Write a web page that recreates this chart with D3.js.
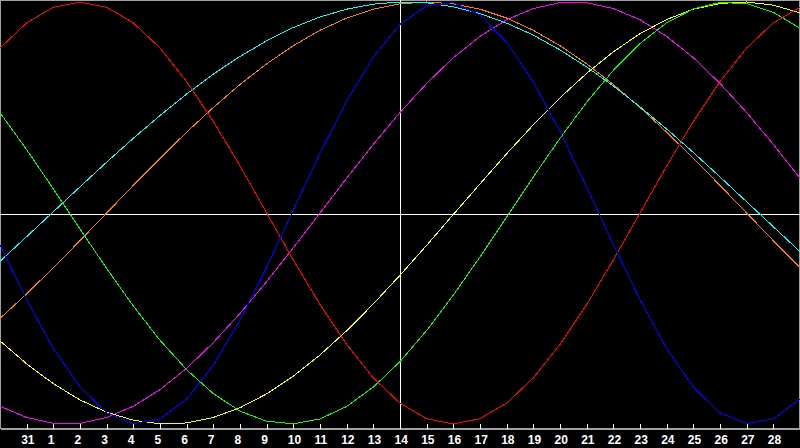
<!DOCTYPE html>
<html>
<head>
<meta charset="utf-8">
<script src="https://cdn.jsdelivr.net/npm/d3@7"></script>
<style>
  html, body { margin: 0; padding: 0; background: #000; }
  svg { display: block; }
</style>
</head>
<body>
<svg width="800" height="448"></svg>
<script>
// days shown along the bottom (first and last sit on the frame edges)
const dayLabels = ["30","31","1","2","3","4","5","6","7","8","9","10","11","12","13","14",
  "15","16","17","18","19","20","21","22","23","24","25","26","27","28","29"];
const todayIndex = 15; // "14"

// cycle values per day, -1 .. 1
const physical = [-0.150,-0.411,-0.642,-0.825,-0.947,-0.998,-0.976,-0.881,-0.722,-0.508,-0.257,0.014,
  0.283,0.531,0.740,0.894,0.982,0.997,0.938,0.809,0.621,0.386,0.123,-0.150,-0.411,-0.642,-0.825,-0.947,
  -0.998,-0.976,-0.881];
const emotional = [0.782,0.901,0.975,1,0.975,0.901,0.782,0.623,0.434,0.223,0,-0.223,-0.434,-0.623,
  -0.782,-0.901,-0.975,-1,-0.975,-0.901,-0.782,-0.623,-0.434,-0.223,0,0.223,0.434,0.623,0.782,0.901,0.975];
const intellectual = [0.475,0.300,0.114,-0.076,-0.263,-0.441,-0.603,-0.743,-0.856,-0.939,-0.987,-0.999,
  -0.976,-0.917,-0.825,-0.704,-0.557,-0.389,-0.208,-0.019,0.171,0.354,0.525,0.676,0.803,0.902,0.967,
  0.998,0.992,0.951,0.875];
const intuitive = [-0.916,-0.969,-0.997,-0.997,-0.969,-0.916,-0.837,-0.736,-0.614,-0.476,-0.325,-0.165,
  0,0.165,0.325,0.476,0.614,0.736,0.837,0.916,0.969,0.997,0.997,0.969,0.916,0.837,0.736,0.614,0.476,
  0.325,0.165];
const aesthetic = [-0.606,-0.715,-0.809,-0.886,-0.944,-0.982,-0.999,-0.995,-0.969,-0.923,-0.857,-0.773,
  -0.673,-0.558,-0.431,-0.295,-0.153,-0.007,0.138,0.281,0.418,0.546,0.662,0.764,0.850,0.917,0.966,
  0.993,1.000,0.985,0.949];
const awareness = [-0.5,-0.383,-0.259,-0.131,0,0.131,0.259,0.383,0.5,0.609,0.707,0.793,0.866,0.924,
  0.966,0.991,1,0.991,0.966,0.924,0.866,0.793,0.707,0.609,0.5,0.383,0.259,0.131,0,-0.131,-0.259];
const spiritual = [-0.229,-0.112,0.006,0.124,0.241,0.354,0.462,0.564,0.658,0.742,0.816,0.879,0.929,
  0.966,0.990,1.000,0.996,0.977,0.945,0.900,0.843,0.773,0.692,0.602,0.503,0.398,0.287,0.171,0.053,
  -0.065,-0.183];

const series = [
  { values: awareness, color: "#ff8000" },
  { values: spiritual, color: "#00ffff" },
  { values: intuitive, color: "#ff00ff" },
  { values: aesthetic, color: "#ffff00" },
  { values: intellectual, color: "#00ff00" },
  { values: emotional, color: "#ff0000" },
  { values: physical, color: "#0000ff" }
];

const W = 800, H = 448, axisY = 428;
const svg = d3.select("svg");

const x = d3.scaleLinear().domain([0, dayLabels.length - 1]).range([0, W]);
const y = d3.scaleLinear().domain([-1, 1]).range([424, 2]);

// frame
svg.append("rect")
  .attr("x", 0.5).attr("y", 0.5)
  .attr("width", W - 1).attr("height", axisY - 0.5)
  .attr("fill", "none")
  .attr("stroke", "#a0a0a0")
  .attr("shape-rendering", "crispEdges");

// zero line and today line
svg.append("line")
  .attr("x1", 0).attr("x2", W)
  .attr("y1", 214.5).attr("y2", 214.5)
  .attr("stroke", "#fff")
  .attr("shape-rendering", "crispEdges");
svg.append("line")
  .attr("x1", Math.round(x(todayIndex)) + 0.5).attr("x2", Math.round(x(todayIndex)) + 0.5)
  .attr("y1", 0).attr("y2", axisY)
  .attr("stroke", "#fff")
  .attr("shape-rendering", "crispEdges");

const line = d3.line()
  .x((d, i) => x(i))
  .y(d => y(d));

svg.selectAll(".cycle")
  .data(series)
  .enter()
  .append("path")
  .attr("class", "cycle")
  .attr("d", d => line(d.values))
  .attr("fill", "none")
  .attr("stroke", d => d.color)
  .attr("stroke-width", 1)
  .attr("shape-rendering", "crispEdges");

// bottom axis, ticks pointing up
const axis = svg.append("g")
  .attr("transform", "translate(0," + (axisY + 0.5) + ")")
  .call(
    d3.axisBottom(x)
      .tickValues(d3.range(1, dayLabels.length - 1))
      .tickFormat(i => dayLabels[i])
      .tickSizeInner(-5)
      .tickSizeOuter(0)
  );

axis.select(".domain").attr("stroke", "#a0a0a0").attr("shape-rendering", "crispEdges");
axis.selectAll(".tick line").attr("stroke", "#fff").attr("shape-rendering", "crispEdges");
axis.selectAll(".tick text")
  .attr("fill", "#fff")
  .attr("text-anchor", "start")
  .attr("x", -6)
  .attr("y", 15)
  .attr("dy", null)
  .style("font-family", "'Liberation Sans', Arial, sans-serif")
  .style("font-weight", "bold")
  .style("font-size", "12px");
</script>
</body>
</html>
